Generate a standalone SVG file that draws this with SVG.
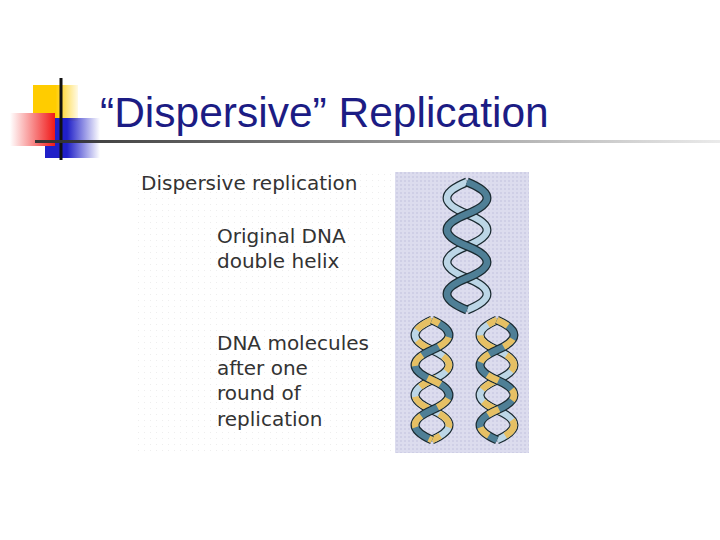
<svg xmlns="http://www.w3.org/2000/svg" width="720" height="540" viewBox="0 0 720 540">
<defs>
<linearGradient id="gr" x1="0" x2="1"><stop offset="0" stop-color="#fff"/><stop offset="1" stop-color="#f01818"/></linearGradient>
<linearGradient id="gb" x1="0" x2="1"><stop offset="0.4" stop-color="#2020c8"/><stop offset="1" stop-color="#2020c8" stop-opacity="0"/></linearGradient>
<linearGradient id="gy" x1="0" x2="1"><stop offset="0.5" stop-color="#ffcc00"/><stop offset="1" stop-color="#ffcc00" stop-opacity="0.1"/></linearGradient>
<linearGradient id="gl" x1="0" x2="1"><stop offset="0" stop-color="#333"/><stop offset="1" stop-color="#333" stop-opacity="0.1"/></linearGradient>
<pattern id="dots" width="4" height="4" patternUnits="userSpaceOnUse"><rect width="4" height="4" fill="#dcdcee"/><rect width="2" height="2" fill="#cfcfe6"/></pattern>
<pattern id="wd" width="6" height="6" patternUnits="userSpaceOnUse"><rect width="6" height="6" fill="#fff"/><rect width="1" height="1" fill="#eee"/></pattern>
<path id="hA" d="M467 182 Q507 198 467 214 T467 246 T467 278 T467 310"/>
<path id="hB" d="M467 182 Q427 198 467 214 T467 246 T467 278 T467 310"/>
<path id="hC" d="M0 320 Q34 335 0 350 T0 380 T0 410 T0 440"/>
<path id="hD" d="M0 320 Q-34 335 0 350 T0 380 T0 410 T0 440"/>
</defs>
<style>
.t{font-family:"DejaVu Sans",Verdana,sans-serif;fill:#333;font-size:20px}
.o{fill:none;stroke:#1a2a30;stroke-width:9}
.dk{fill:none;stroke:#4f7f96;stroke-width:6.5}
.lt{fill:none;stroke:#bcd6e6;stroke-width:6.5}
.y{fill:none;stroke:#e6c064;stroke-width:6.5}
</style>
<g id="logo">
<rect x="33" y="85" width="45" height="36" fill="url(#gy)"/>
<rect x="45" y="118" width="55" height="40" fill="url(#gb)"/>
<rect x="10" y="113" width="45" height="33" fill="url(#gr)"/>
<line x1="61" y1="78" x2="61" y2="160" stroke="#111" stroke-width="3"/>
<rect x="35" y="140" width="685" height="3" fill="url(#gl)"/>
</g>
<text id="title" x="100" y="127" font-family="Liberation Sans,Arial,sans-serif" font-size="42.5" fill="#1c1c84">“Dispersive” Replication</text>
<g id="figure">
<rect x="137" y="172" width="258" height="281" fill="url(#wd)"/>
<rect x="395" y="172" width="134" height="281" fill="url(#dots)"/>
<text class="t" x="141" y="190">Dispersive replication</text>
<text class="t" x="217" y="243">Original DNA</text>
<text class="t" x="217" y="268">double helix</text>
<text class="t" x="217" y="350">DNA molecules</text>
<text class="t" x="217" y="375">after one</text>
<text class="t" x="217" y="400">round of</text>
<text class="t" x="217" y="426">replication</text>
<use href="#hB" class="o"/><use href="#hB" class="lt"/>
<use href="#hA" class="o"/><use href="#hA" class="dk"/>
<g transform="translate(432 0)">
<use href="#hD" class="o"/><use href="#hD" class="lt"/><use href="#hD" class="y" stroke-dasharray="18 12"/>
<use href="#hC" class="o"/><use href="#hC" class="dk"/><use href="#hC" class="y" stroke-dasharray="14 18" stroke-dashoffset="6"/>
</g>
<g transform="translate(497 0)">
<use href="#hD" class="o"/><use href="#hD" class="lt"/><use href="#hD" class="y" stroke-dasharray="20 14" stroke-dashoffset="10"/>
<use href="#hC" class="o"/><use href="#hC" class="dk"/><use href="#hC" class="y" stroke-dasharray="12 16"/>
</g>
</g>
</svg>
